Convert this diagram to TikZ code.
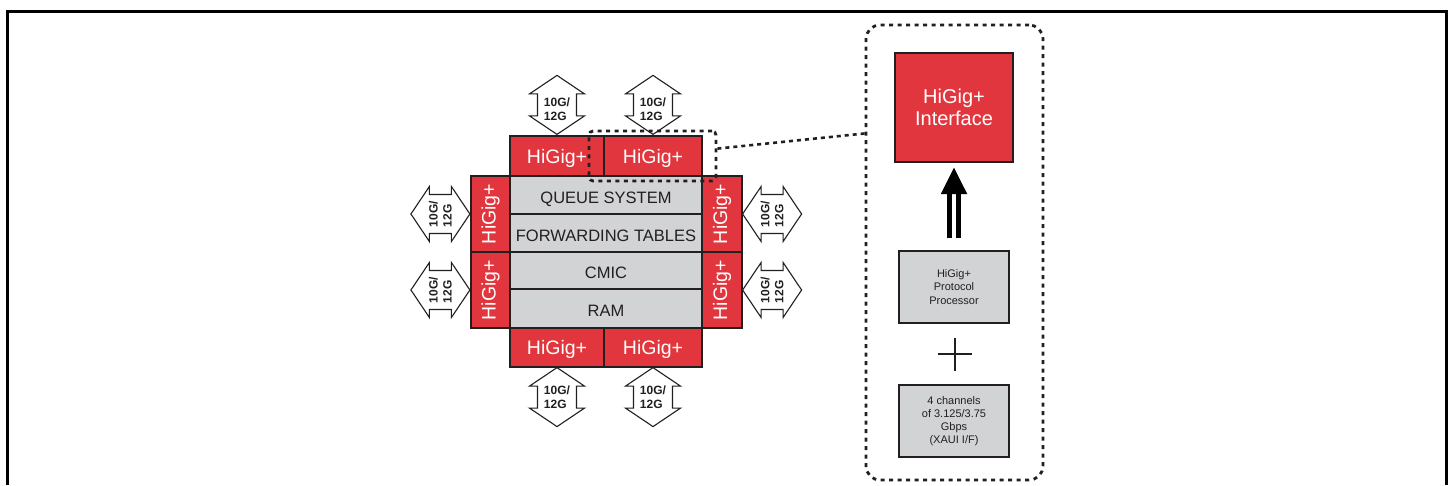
\documentclass[tikz,border=0pt]{standalone}
\usepackage{fontspec}
\setmainfont{Liberation Sans}
\usetikzlibrary{calc}
\definecolor{hgred}{RGB}{226,54,62}
\definecolor{hggray}{RGB}{209,211,212}
\definecolor{hgline}{RGB}{35,31,32}
\tikzset{
  redbox/.style={draw=hgline, line width=1.2pt, fill=hgred, text=white, inner sep=0pt,
    font=\fontsize{19.5}{22}\selectfont},
  redtext/.style={text height=14, text depth=0pt},
  graybox/.style={draw=hgline, line width=1.2pt, fill=hggray, text=hgline, inner sep=0pt,
    text height=16.4, text depth=0pt, font=\fontsize{16.5}{19}\selectfont},
  smallgray/.style={draw=hgline, line width=1.2pt, fill=hggray, text=hgline, inner sep=0pt,
    align=center, font=\fontsize{11}{13.5}\selectfont},
  spdarrow/.style={draw=hgline, line width=1.1pt, fill=white, line join=miter},
  spdtext/.style={text=hgline, inner sep=0pt, align=left,
    font=\bfseries\fontsize{12}{14}\selectfont},
  spdshift/.style={},
  dotframe/.style={draw=hgline, line width=2.8pt, dash pattern=on 4pt off 4.5pt},
  dotline/.style={draw=hgline, line width=2.6pt, dash pattern=on 4pt off 4pt},
  varrow/.pic={
    \draw[spdarrow] (0,-29.5) -- (27.5,-11) -- (19.5,-11) -- (19.5,11) -- (27.5,11)
      -- (0,29.5) -- (-27.5,11) -- (-19.5,11) -- (-19.5,-11) -- (-27.5,-11) -- cycle;
    \node[spdtext, spdshift] (-t) at (0,0.5) {10G/\\12G};
  },
  harrow/.pic={
    \draw[spdarrow] (-29.5,0) -- (-11,27.5) -- (-11,19.5) -- (11,19.5) -- (11,27.5)
      -- (29.5,0) -- (11,-27.5) -- (11,-19.5) -- (-11,-19.5) -- (-11,-27.5) -- cycle;
    \node[spdtext, rotate=90] (-t) at (0,0) {10G/\\12G};
  },
}
\begin{document}
\begin{tikzpicture}[x=1pt,y=-1pt]
\useasboundingbox (0,0) rectangle (1451,485);
% outer frame
\draw[line width=3pt, line join=miter, draw=black] (7.5,485) -- (7.5,11.5) -- (1446.5,11.5) -- (1446.5,485);

% center gray blocks
\node[graybox, minimum width=192, minimum height=38] (g1) at (606,195) {QUEUE SYSTEM};
\node[graybox, minimum width=192, minimum height=38] (g2) at (606,233) {FORWARDING TABLES};
\node[graybox, minimum width=192, minimum height=37] (g3) at (606,270.5) {CMIC};
\node[graybox, minimum width=192, minimum height=39] (g4) at (606,308.5) {RAM};

% HiGig+ ports
\node[redbox, redtext, minimum width=94, minimum height=40] (t1) at (557,156) {HiGig+};
\node[redbox, redtext, minimum width=98, minimum height=40] (t2) at (653,156) {HiGig+};
\node[redbox, redtext, minimum width=94, minimum height=39] (b1) at (557,347.5) {HiGig+};
\node[redbox, redtext, minimum width=98, minimum height=39] (b2) at (653,347.5) {HiGig+};
\node[redbox, minimum width=39, minimum height=76] (l1) at (490.5,214) {\rotatebox{90}{HiGig+}};
\node[redbox, minimum width=39, minimum height=76] (l2) at (490.5,290) {\rotatebox{90}{HiGig+}};
\node[redbox, minimum width=40, minimum height=76] (r1) at (722,214) {\rotatebox{90}{HiGig+}};
\node[redbox, minimum width=40, minimum height=76] (r2) at (722,290) {\rotatebox{90}{HiGig+}};

% 10G/12G arrows
\pic[spdshift/.style={yshift=-3.5pt}] (at1) at ($(t1.north)+(0,-30.5)$) {varrow};
\pic[spdshift/.style={yshift=-3.5pt}] (at2) at ($(t2.north)+(0,-30.5)$) {varrow};
\pic (ab1) at ($(b1.south)+(0,29.5)$) {varrow};
\pic (ab2) at ($(b2.south)+(0,29.5)$) {varrow};
\pic (al1) at ($(l1.west)+(-30,0)$) {harrow};
\pic (al2) at ($(l2.west)+(-30,0)$) {harrow};
\pic (ar1) at ($(r1.east)+(29.5,0)$) {harrow};
\pic (ar2) at ($(r2.east)+(29.5,0)$) {harrow};

% selection and zoom panel
\node[dotframe, rounded corners=4pt, minimum width=127, minimum height=50, inner sep=0pt] (sel) at (652.5,156) {};
\node[dotframe, rounded corners=14pt, minimum width=177, minimum height=455, inner sep=0pt] (panel) at (954.5,252.5) {};
\draw[dotline] ($(sel.north east)!0.36!(sel.south east)$) -- ($(panel.north west)!0.24!(panel.south west)$);

\node[redbox, minimum width=118, minimum height=109, align=center,
  font=\fontsize{20}{22.5}\selectfont] (iface) at (954,107.5) {HiGig+\\Interface};
\node[smallgray, minimum width=110, minimum height=72] (proc) at (954,287) {HiGig+\\Protocol\\Processor};
\node[smallgray, minimum width=110, minimum height=72,
  font=\fontsize{11}{13}\selectfont] (xaui) at (954,421) {4 channels\\of 3.125/3.75\\Gbps\\(XAUI I/F)};

% double-shaft arrow
\coordinate (a0) at ($(proc.north)+(0,-12)$);
\coordinate (a1) at ($(iface.south)+(0,5)$);
\coordinate (ah) at ($(a1)+(0,26.5)$);
\draw[line width=4.5pt, draw=black] ($(a0)+(-4.7,0)$) -- ($(ah)+(-4.7,0)$);
\draw[line width=4.5pt, draw=black] ($(a0)+(4.7,0)$) -- ($(ah)+(4.7,0)$);
\fill[black] ($(ah)+(-13.3,0)$) -- ($(ah)+(13.3,0)$) -- (a1) -- cycle;

% plus sign
\coordinate (pc) at ($(proc.south)!0.5!(xaui.north)+(1,0)$);
\draw[line width=1.3pt, draw=hgline] ($(pc)+(-17,0)$) -- ($(pc)+(17,0)$);
\draw[line width=1.3pt, draw=hgline] ($(pc)+(0,-16.5)$) -- ($(pc)+(0,16.5)$);
\end{tikzpicture}
\end{document}
